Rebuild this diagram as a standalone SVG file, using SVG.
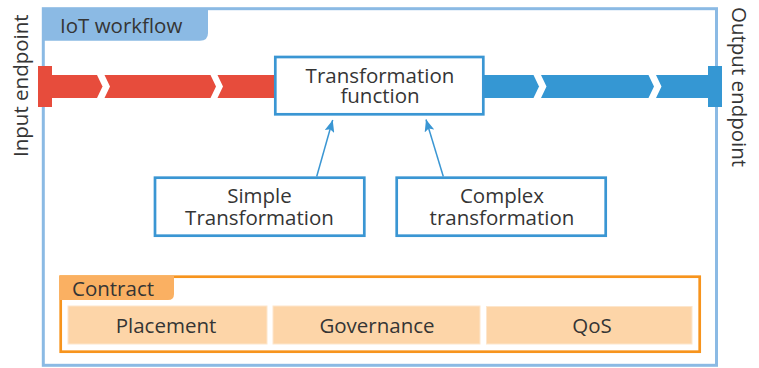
<svg xmlns="http://www.w3.org/2000/svg" width="759" height="368" viewBox="0 0 759 368">
<defs>
<style>
text{font-family:"Open Sans","Liberation Sans",sans-serif;font-size:20.5px;fill:#353535}
.mid{text-anchor:middle}
.box{fill:#ffffff;stroke:#3a96d3;stroke-width:2.7}
.cell{fill:#fdd5a8;stroke:#fde6cc;stroke-width:1}
.conn{stroke:#3a96d3;stroke-width:1.5;fill:none}
</style>
<marker id="ah" viewBox="0 0 12 10" refX="12" refY="5" markerWidth="12" markerHeight="10" markerUnits="userSpaceOnUse" orient="auto">
<path d="M0,0 L12,5 L0,10 L2.5,5 Z" fill="#3a96d3"/>
</marker>
</defs>
<g id="workflow">
<rect x="43.3" y="8.7" width="673.2" height="356.6" fill="#ffffff" stroke="#8bbae4" stroke-width="3"/>
<path d="M43.3,8.7 H208 V33 Q208,40.7 200,40.7 H43.3 Z" fill="#8bbae4"/>
<text x="60" y="33">IoT workflow</text>
</g>
<g id="input-endpoint">
<rect x="38" y="66" width="14" height="41" fill="#e74c3c"/>
<polygon points="51,75 97,75 102.5,86.5 97,98 51,98" fill="#e74c3c"/>
<polygon points="104.5,75 210.5,75 216,86.5 210.5,98 104.5,98 110,86.5" fill="#e74c3c"/>
<polygon points="217.5,75 276,75 276,98 217.5,98 223,86.5" fill="#e74c3c"/>
<text transform="translate(27.5,157) rotate(-90)">Input endpoint</text>
</g>
<g id="output-endpoint">
<polygon points="484,75 533.5,75 539,86.5 533.5,98 484,98" fill="#3597d3"/>
<polygon points="541,75 648.5,75 654,86.5 648.5,98 541,98 546.5,86.5" fill="#3597d3"/>
<polygon points="656,75 709,75 709,98 656,98 661.5,86.5" fill="#3597d3"/>
<rect x="708" y="66" width="14" height="41" fill="#3597d3"/>
<text transform="translate(732,7) rotate(90)">Output endpoint</text>
</g>
<g id="transformation-function">
<rect class="box" x="275.3" y="57" width="208" height="57.3"/>
<text class="mid" x="380" y="83.3">Transformation<tspan x="380" dy="20">function</tspan></text>
</g>
<g id="simple-transformation">
<rect class="box" x="155" y="177.7" width="209.3" height="58"/>
<text class="mid" x="259.5" y="203.3">Simple<tspan x="259.5" dy="21.7">Transformation</tspan></text>
</g>
<g id="complex-transformation">
<rect class="box" x="396.7" y="177.7" width="209" height="58"/>
<text class="mid" x="502" y="203.3">Complex<tspan x="502" dy="21.7">transformation</tspan></text>
</g>
<g id="connectors">
<line class="conn" x1="316.7" y1="176.5" x2="332.7" y2="120" marker-end="url(#ah)"/>
<line class="conn" x1="443.3" y1="176.5" x2="426" y2="119.5" marker-end="url(#ah)"/>
</g>
<g id="contract">
<rect x="60.7" y="276.7" width="639" height="75" fill="#ffffff" stroke="#f7941d" stroke-width="2.7"/>
<path d="M59.3,275.7 H174 V294 Q174,300 168,300 H59.3 Z" fill="#fab062"/>
<text x="72" y="296">Contract</text>
</g>
<g id="placement">
<rect class="cell" x="68" y="306" width="199" height="38"/>
<text class="mid" x="166" y="333">Placement</text>
</g>
<g id="governance">
<rect class="cell" x="273" y="306" width="207" height="38"/>
<text class="mid" x="377" y="333">Governance</text>
</g>
<g id="qos">
<rect class="cell" x="486.5" y="306.5" width="205.5" height="37.5"/>
<text class="mid" x="592" y="333">QoS</text>
</g>
</svg>
